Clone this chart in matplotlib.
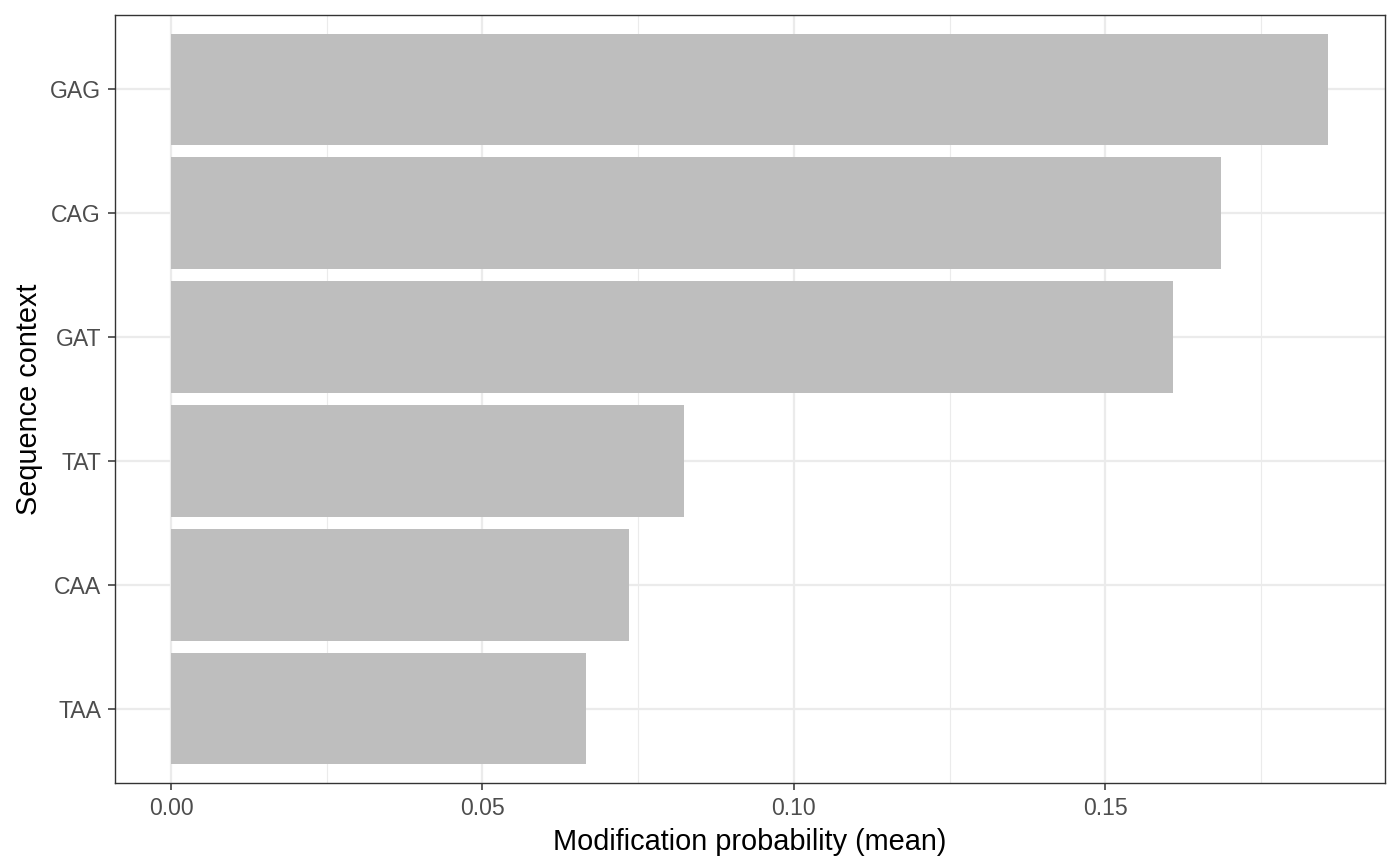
import matplotlib
matplotlib.use("Agg")
import matplotlib.pyplot as plt
from matplotlib.ticker import MultipleLocator

plt.rcParams['font.family'] = ['Liberation Sans', 'DejaVu Sans']

categories = ["TAA", "CAA", "TAT", "GAT", "CAG", "GAG"]
values = [0.0666, 0.0735, 0.0824, 0.1609, 0.1685, 0.1857]
x_ticks = [0.00, 0.05, 0.10, 0.15]
x_tick_labels = ["0.00", "0.05", "0.10", "0.15"]
x_limits = (-0.0090, 0.1949)

W, H = 1400, 866
fig = plt.figure(figsize=(W / 100, H / 100), dpi=100)
ax = fig.add_axes([115 / W, (H - 783) / H, 1270 / W, 768 / H])

pos = list(range(1, len(categories) + 1))
ax.barh(pos, values, height=0.9, color="#BEBEBE", zorder=2)

ax.set_xlim(*x_limits)
ax.set_ylim(0.4, len(categories) + 0.6)

ax.set_xticks(x_ticks)
ax.set_xticklabels(x_tick_labels)
ax.xaxis.set_minor_locator(MultipleLocator(0.025))
ax.set_yticks(pos)
ax.set_yticklabels(categories)

ax.grid(which="major", color="#EBEBEB", linewidth=1.6, zorder=0)
ax.grid(which="minor", axis="x", color="#EBEBEB", linewidth=0.8, zorder=0)
ax.set_axisbelow(True)

for s in ax.spines.values():
    s.set_color("#333333")
    s.set_linewidth(1.0)

ax.tick_params(axis="both", which="major", length=5, width=1.1, color="#333333",
               labelcolor="#4D4D4D", labelsize=16.6, pad=5)
ax.tick_params(axis="both", which="minor", length=0)

ax.set_xlabel("Modification probability (mean)", fontsize=20.8, color="black", labelpad=6)
ax.set_ylabel("Sequence context", fontsize=20.8, color="black", labelpad=5)

fig.savefig("out.png", dpi=100)
